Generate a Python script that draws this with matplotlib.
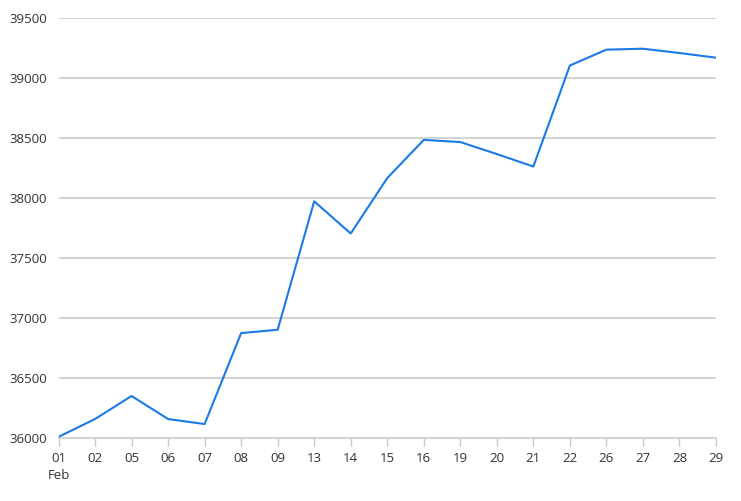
import matplotlib.pyplot as plt

days = ['01', '02', '05', '06', '07', '08', '09', '13', '14', '15',
        '16', '19', '20', '21', '22', '26', '27', '28', '29']
values = [36005, 36154, 36346, 36154, 36112, 36870, 36898, 37968, 37700, 38162,
          38480, 38462, 38362, 38258, 39100, 39232, 39240, 39204, 39165]
yticks = [36000, 36500, 37000, 37500, 38000, 38500, 39000, 39500]

plt.rcParams['font.family'] = ['Open Sans', 'DejaVu Sans']

fig = plt.figure(figsize=(7.41, 5.02), dpi=100)
ax = fig.add_axes([58.5 / 741, 1 - 438.5 / 502, (716 - 58.5) / 741, (438.5 - 18.5) / 502])

x = list(range(len(days)))
ax.plot(x, values, color='#1a7ae8', linewidth=1.5, zorder=3)

ax.set_xlim(0, len(days) - 1)
ax.set_ylim(36000, 39500)
ax.set_yticks(yticks)
ax.set_yticklabels([str(v) for v in yticks])
ax.set_xticks(x)
labels = [d for d in days]
labels[0] = '01\nFeb'
ax.set_xticklabels(labels, linespacing=1.35, va='top')

ax.grid(axis='y', color='#d4d4d4', linewidth=1.5)
ax.set_axisbelow(True)
for s in ['left', 'right', 'top']:
    ax.spines[s].set_visible(False)
ax.spines['bottom'].set_color('#d4d4d4')
ax.spines['bottom'].set_linewidth(1.5)
ax.tick_params(axis='y', length=0, pad=8, labelsize=9.5, labelcolor='#333333')
ax.tick_params(axis='x', length=6, width=1, color='#c8c8c8', pad=4,
               labelsize=9.5, labelcolor='#333333')

fig.savefig('out.png', dpi=100)
